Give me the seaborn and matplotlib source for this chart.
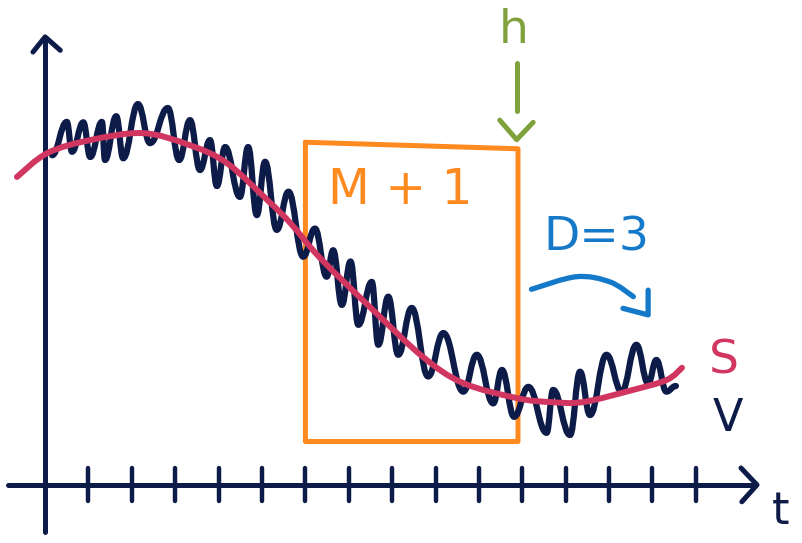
import numpy as np
import pandas as pd
import matplotlib
matplotlib.use("Agg")
import matplotlib.pyplot as plt
from matplotlib.path import Path
from matplotlib.patches import PathPatch
import seaborn as sns

# time axis in tick units, values in the same units above the t axis
# V: the wiggly measured signal, read as its turning points (peaks / troughs)
v_t = [0.16, 0.50, 0.62, 0.88, 1.04, 1.31, 1.38, 1.64, 1.80, 2.14, 2.42, 2.83, 3.09, 3.34,
       3.57, 3.80, 3.96, 4.15, 4.49, 4.68, 4.88, 5.07, 5.34, 5.61, 5.95, 6.22, 6.49, 6.64,
       6.84, 7.04, 7.22, 7.53, 7.68, 7.91, 8.14, 8.45, 8.83, 9.18, 9.64, 9.95, 10.33, 10.53,
       10.81, 11.14, 11.56, 11.71, 12.10, 12.33, 12.56, 12.94, 13.29, 13.63, 13.90, 14.09,
       14.32, 14.54]
v_val = [7.60, 8.37, 7.68, 8.36, 7.56, 8.37, 7.49, 8.50, 7.53, 8.78, 7.88, 8.69, 7.49, 8.41,
         7.26, 7.95, 6.89, 7.79, 6.64, 7.79, 6.22, 7.45, 5.88, 6.76, 5.26, 5.91, 4.80, 5.41,
         4.15, 5.15, 3.69, 4.68, 3.23, 4.34, 3.00, 4.08, 2.50, 3.50, 2.15, 3.00, 1.88, 2.65,
         1.57, 2.26, 1.20, 2.19, 1.15, 2.61, 1.61, 3.00, 2.15, 3.23, 2.34, 2.88, 2.15, 2.28]

# S: the smooth trend
s_t = [-0.65, 0.05, 1.04, 2.26, 3.34, 4.19, 5.12, 5.65, 6.34, 7.56, 8.71, 9.63, 10.88,
       11.64, 12.40, 13.55, 14.33, 14.68]
s_val = [7.10, 7.65, 7.95, 8.11, 7.83, 7.42, 6.57, 6.04, 5.23, 4.03, 2.95, 2.35, 2.00,
         1.91, 1.91, 2.19, 2.42, 2.70]

tick_t = list(range(1, 16))

# window box (M+1 samples), horizon arrow h, delay arrow D=3
box_t = [6.0, 10.9, 10.9, 6.0, 6.0]
box_val = [7.90, 7.75, 1.0, 1.0, 7.90]
arc_t = [11.21, 12.25, 13.02, 13.56]
arc_val = [4.51, 4.80, 4.68, 4.34]

NAVY = "#0c1b47"
RED = "#d13661"
ORANGE = "#ff8a1f"
GREEN = "#7fa13b"
BLUE = "#1479c9"

sns.set_theme(style="white")
plt.rcParams["font.family"] = ["DejaVu Sans"]

fig = plt.figure(figsize=(8.03, 5.43), dpi=100)
ax = fig.add_axes([0, 0, 1, 1])
ax.set_xlim(-1.04, 17.47)
ax.set_ylim(-1.34, 11.18)
ax.axis("off")


def smooth_path(xs, ys):
    # catmull-rom through the points, drawn as cubic beziers
    p = np.column_stack([xs, ys])
    verts = [p[0]]
    codes = [Path.MOVETO]
    for i in range(len(p) - 1):
        p0 = p[i - 1] if i > 0 else p[i]
        p3 = p[i + 2] if i + 2 < len(p) else p[i + 1]
        verts += [p[i] + (p[i + 1] - p0) / 6, p[i + 1] - (p3 - p[i]) / 6, p[i + 1]]
        codes += [Path.CURVE4] * 3
    return Path(verts, codes)


def wiggle_path(xs, ys, k=0.42):
    # flat tangent at every turning point -> rounded sine-like halves
    verts = [(xs[0], ys[0])]
    codes = [Path.MOVETO]
    for i in range(len(xs) - 1):
        dx = xs[i + 1] - xs[i]
        verts += [(xs[i] + k * dx, ys[i]), (xs[i + 1] - k * dx, ys[i + 1]), (xs[i + 1], ys[i + 1])]
        codes += [Path.CURVE4] * 3
    return Path(verts, codes)


line_kw = dict(solid_capstyle="round", solid_joinstyle="round")

# axes drawn by hand
axes_df = pd.DataFrame({"t": [-0.85, 16.3], "v": [0, 0]})
sns.lineplot(data=axes_df, x="t", y="v", color=NAVY, lw=3.6, ax=ax, **line_kw)
ax.plot([16.04, 16.41, 16.06], [0.39, 0.0, -0.39], color=NAVY, lw=3.6, **line_kw)
ax.plot([0, 0], [-1.08, 10.30], color=NAVY, lw=3.6, **line_kw)
ax.plot([-0.28, 0.0, 0.35], [9.98, 10.33, 10.02], color=NAVY, lw=3.6, **line_kw)
for t in tick_t:
    ax.plot([t, t], [-0.38, 0.38], color=NAVY, lw=3.2, **line_kw)

# window box
ax.plot(box_t, box_val, color=ORANGE, lw=3.6, zorder=2, **line_kw)

# signals
ax.add_patch(PathPatch(wiggle_path(v_t, v_val), fill=False, ec=NAVY, lw=4.5,
                       capstyle="round", joinstyle="round", zorder=3))
ax.add_patch(PathPatch(smooth_path(s_t, s_val), fill=False, ec=RED, lw=4.3,
                       capstyle="round", joinstyle="round", zorder=4))

# horizon arrow
ax.plot([10.87, 10.87], [9.72, 8.61], color=GREEN, lw=3.6, **line_kw)
ax.plot([10.48, 10.87, 11.25], [8.41, 7.96, 8.36], color=GREEN, lw=3.6, **line_kw)

# delay arrow
ax.add_patch(PathPatch(smooth_path(arc_t, arc_val), fill=False, ec=BLUE, lw=3.8,
                       capstyle="round", joinstyle="round"))
ax.plot([13.32, 13.90, 13.90], [4.07, 3.92, 4.49], color=BLUE, lw=3.8, **line_kw)

# labels
ax.text(8.18, 6.80, "M + 1", color=ORANGE, fontsize=35, ha="center", va="center")
ax.text(10.81, 10.48, "h", color=GREEN, fontsize=34, ha="center", va="center")
ax.text(12.70, 5.69, "D=3", color=BLUE, fontsize=34, ha="center", va="center")
ax.text(15.65, 2.86, "S", color=RED, fontsize=34, ha="center", va="center")
ax.text(15.74, 1.52, "V", color=NAVY, fontsize=32, ha="center", va="center")
ax.text(16.96, -0.62, "t", color=NAVY, fontsize=32, ha="center", va="center")

fig.savefig("out.png", dpi=100)
